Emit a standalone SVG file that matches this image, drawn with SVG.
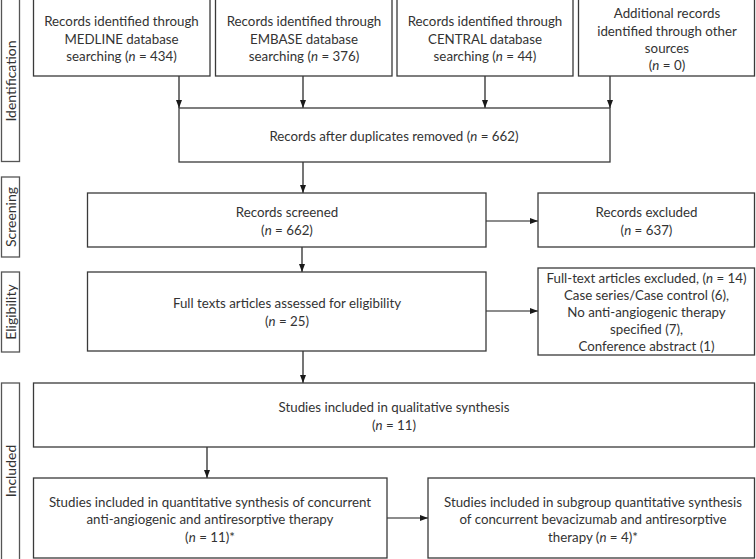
<svg xmlns="http://www.w3.org/2000/svg" width="756" height="559" viewBox="0 0 756 559">
<defs>
<style>
.box{fill:#fff;stroke:#3a3a3a;stroke-width:1.3}
.bar{fill:#fff;stroke:#555;stroke-width:1.3}
.t{font-family:Lato,"Open Sans","Liberation Sans",sans-serif;font-size:13.3px;fill:#333;text-anchor:middle}
.s{font-family:Lato,"Open Sans","Liberation Sans",sans-serif;font-size:14px;fill:#333;text-anchor:middle}
.c{fill:none;stroke:#1a1a1a;stroke-width:1.2}
</style>
<marker id="ah" markerUnits="userSpaceOnUse" markerWidth="8" markerHeight="8" viewBox="0 0 8 8" refX="8" refY="4" orient="auto">
<path d="M0,1 L8,4 L0,7 Z" fill="#1a1a1a"/>
</marker>
</defs>
<rect width="756" height="559" fill="#fff"/>

<g id="phases">
<g id="ph-identification"><rect class="bar" x="1.5" y="-2" width="18" height="163.5"/><text class="s" transform="translate(16,81) rotate(-90)">Identification</text></g>
<g id="ph-screening"><rect class="bar" x="1.5" y="177" width="18" height="80"/><text class="s" transform="translate(16,217) rotate(-90)">Screening</text></g>
<g id="ph-eligibility"><rect class="bar" x="1.5" y="272" width="18" height="80"/><text class="s" transform="translate(16,312) rotate(-90)">Eligibility</text></g>
<g id="ph-included"><rect class="bar" x="1.5" y="383" width="18" height="180"/><text class="s" transform="translate(16,471) rotate(-90)">Included</text></g>
</g>

<g id="connectors">
<line class="c" x1="179" y1="76" x2="179" y2="108" marker-end="url(#ah)"/>
<line class="c" x1="303" y1="76" x2="303" y2="108" marker-end="url(#ah)"/>
<line class="c" x1="485" y1="76" x2="485" y2="108" marker-end="url(#ah)"/>
<line class="c" x1="610" y1="76" x2="610" y2="108" marker-end="url(#ah)"/>
<line class="c" x1="303" y1="162" x2="303" y2="193" marker-end="url(#ah)"/>
<line class="c" x1="486" y1="221" x2="538" y2="221" marker-end="url(#ah)"/>
<line class="c" x1="302" y1="247" x2="302" y2="272" marker-end="url(#ah)"/>
<line class="c" x1="486" y1="311" x2="538" y2="311" marker-end="url(#ah)"/>
<line class="c" x1="303" y1="351" x2="303" y2="383" marker-end="url(#ah)"/>
<line class="c" x1="207" y1="447" x2="207" y2="478" marker-end="url(#ah)"/>
<line class="c" x1="387" y1="518" x2="428" y2="518" marker-end="url(#ah)"/>
</g>

<g id="medline"><rect class="box" x="33.5" y="-2" width="176.5" height="78"/>
<text class="t" x="121.5" y="26">Records identified through</text>
<text class="t" x="121.5" y="43.5">MEDLINE database</text>
<text class="t" x="121.5" y="61">searching (<tspan font-style="italic">n</tspan> = 434)</text></g>

<g id="embase"><rect class="box" x="215.5" y="-2" width="176.5" height="78"/>
<text class="t" x="304" y="26">Records identified through</text>
<text class="t" x="304" y="43.5">EMBASE database</text>
<text class="t" x="304" y="61">searching (<tspan font-style="italic">n</tspan> = 376)</text></g>

<g id="central"><rect class="box" x="397" y="-2" width="176" height="78"/>
<text class="t" x="485" y="26">Records identified through</text>
<text class="t" x="485" y="43.5">CENTRAL database</text>
<text class="t" x="485" y="61">searching (<tspan font-style="italic">n</tspan> = 44)</text></g>

<g id="additional"><rect class="box" x="578.5" y="-2" width="176" height="78"/>
<text class="t" x="667" y="18">Additional records</text>
<text class="t" x="667" y="35.5">identified through other</text>
<text class="t" x="667" y="53">sources</text>
<text class="t" x="667" y="70">(<tspan font-style="italic">n</tspan> = 0)</text></g>

<g id="duplicates"><rect class="box" x="179" y="108" width="431" height="54"/>
<text class="t" x="394" y="140.5">Records after duplicates removed (<tspan font-style="italic">n</tspan> = 662)</text></g>

<g id="screened"><rect class="box" x="87.5" y="193" width="398.5" height="54"/>
<text class="t" x="287" y="216.5">Records screened</text>
<text class="t" x="287" y="234.5">(<tspan font-style="italic">n</tspan> = 662)</text></g>

<g id="excluded"><rect class="box" x="538" y="193" width="216.5" height="54"/>
<text class="t" x="646.5" y="216.5">Records excluded</text>
<text class="t" x="646.5" y="234.5">(<tspan font-style="italic">n</tspan> = 637)</text></g>

<g id="fulltext"><rect class="box" x="87.5" y="272" width="398.5" height="79"/>
<text class="t" x="287" y="307.5">Full texts articles assessed for eligibility</text>
<text class="t" x="287" y="325.5">(<tspan font-style="italic">n</tspan> = 25)</text></g>

<g id="ft-excluded"><rect class="box" x="538" y="268" width="216.5" height="87"/>
<text class="t" x="646.5" y="282.5">Full-text articles excluded, (<tspan font-style="italic">n</tspan> = 14)</text>
<text class="t" x="646.5" y="299.5">Case series/Case control (6),</text>
<text class="t" x="646.5" y="316.5">No anti-angiogenic therapy</text>
<text class="t" x="646.5" y="333.5">specified (7),</text>
<text class="t" x="646.5" y="351">Conference abstract (1)</text></g>

<g id="qualitative"><rect class="box" x="33.5" y="383" width="721" height="64"/>
<text class="t" x="394" y="411.5">Studies included in qualitative synthesis</text>
<text class="t" x="394" y="429.5">(<tspan font-style="italic">n</tspan> = 11)</text></g>

<g id="quantitative"><rect class="box" x="33.5" y="478" width="353.5" height="80"/>
<text class="t" x="210" y="506.5">Studies included in quantitative synthesis of concurrent</text>
<text class="t" x="210" y="524">anti-angiogenic and antiresorptive therapy</text>
<text class="t" x="210" y="541.5">(<tspan font-style="italic">n</tspan> = 11)*</text></g>

<g id="subgroup"><rect class="box" x="428" y="478" width="326.5" height="80"/>
<text class="t" x="593" y="506.5">Studies included in subgroup quantitative synthesis</text>
<text class="t" x="593" y="524">of concurrent bevacizumab and antiresorptive</text>
<text class="t" x="593" y="541.5">therapy (<tspan font-style="italic">n</tspan> = 4)*</text></g>
</svg>
